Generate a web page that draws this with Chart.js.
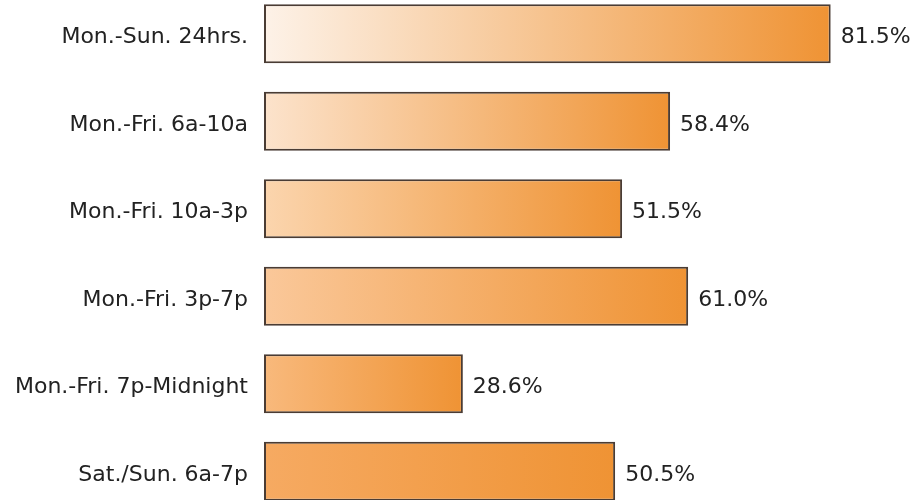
<!DOCTYPE html>
<html>
<head>
<meta charset="utf-8">
<script src="https://cdn.jsdelivr.net/npm/chart.js@4/dist/chart.umd.min.js"></script>
<style>
  html, body { margin: 0; padding: 0; background: #fff; overflow: hidden; }
  #wrap { position: relative; width: 919px; height: 525px; top: -10px; }
</style>
</head>
<body>
<div id="wrap"><canvas id="chart"></canvas></div>
<script>
const categories = [
  'Mon.-Sun. 24hrs.',
  'Mon.-Fri. 6a-10a',
  'Mon.-Fri. 10a-3p',
  'Mon.-Fri. 3p-7p',
  'Mon.-Fri. 7p-Midnight',
  'Sat./Sun. 6a-7p'
];
const shares = [81.5, 58.4, 51.5, 61.0, 28.6, 50.5];

// each row fades from its own light tint into the same orange
const startTints = ['#fdf2e8', '#fce3cc', '#fbd5ae', '#fac89a', '#f8b97c', '#f6aa62'];
const endOrange = '#ef9334';
const FONT = 'DejaVu Sans';

function barFill(c) {
  const chart = c.chart;
  const x = chart.scales.x;
  const i = c.dataIndex;
  if (!x || !chart.chartArea) return startTints[i];
  const g = chart.ctx.createLinearGradient(x.getPixelForValue(0), 0, x.getPixelForValue(c.raw), 0);
  g.addColorStop(0, startTints[i]);
  g.addColorStop(1, endOrange);
  return g;
}

// percent text just past the end of every bar
const valueLabels = {
  id: 'valueLabels',
  afterDatasetsDraw(chart) {
    const { ctx } = chart;
    const meta = chart.getDatasetMeta(0);
    ctx.save();
    ctx.font = `22px "${FONT}"`;
    ctx.fillStyle = '#222';
    ctx.textAlign = 'left';
    ctx.textBaseline = 'middle';
    meta.data.forEach((bar, i) => {
      ctx.fillText(shares[i].toFixed(1) + '%', bar.x + 10, bar.y + 4);
    });
    ctx.restore();
  }
};

new Chart(document.getElementById('chart'), {
  type: 'bar',
  data: {
    labels: categories,
    datasets: [{
      data: shares,
      backgroundColor: barFill,
      borderColor: '#4a3c34',
      borderWidth: 2,
      borderSkipped: false,
      categoryPercentage: 1,
      barPercentage: 0.675
    }]
  },
  options: {
    indexAxis: 'y',
    responsive: true,
    maintainAspectRatio: false,
    animation: false,
    layout: { padding: 0 },
    plugins: {
      legend: { display: false },
      tooltip: { enabled: false }
    },
    scales: {
      x: { display: false, min: 0, max: 94.2 },
      y: {
        grid: { display: false },
        border: { display: false },
        afterFit: s => {
          s.width = 264;
          // rows fill the full height, no room reserved for label overhang
          s.paddingTop = 0;
          s.paddingBottom = 0;
        },
        ticks: {
          padding: 8,
          labelOffset: 4,
          color: '#222',
          font: { family: FONT, size: 22 }
        }
      }
    }
  },
  plugins: [valueLabels]
});
</script>
</body>
</html>
